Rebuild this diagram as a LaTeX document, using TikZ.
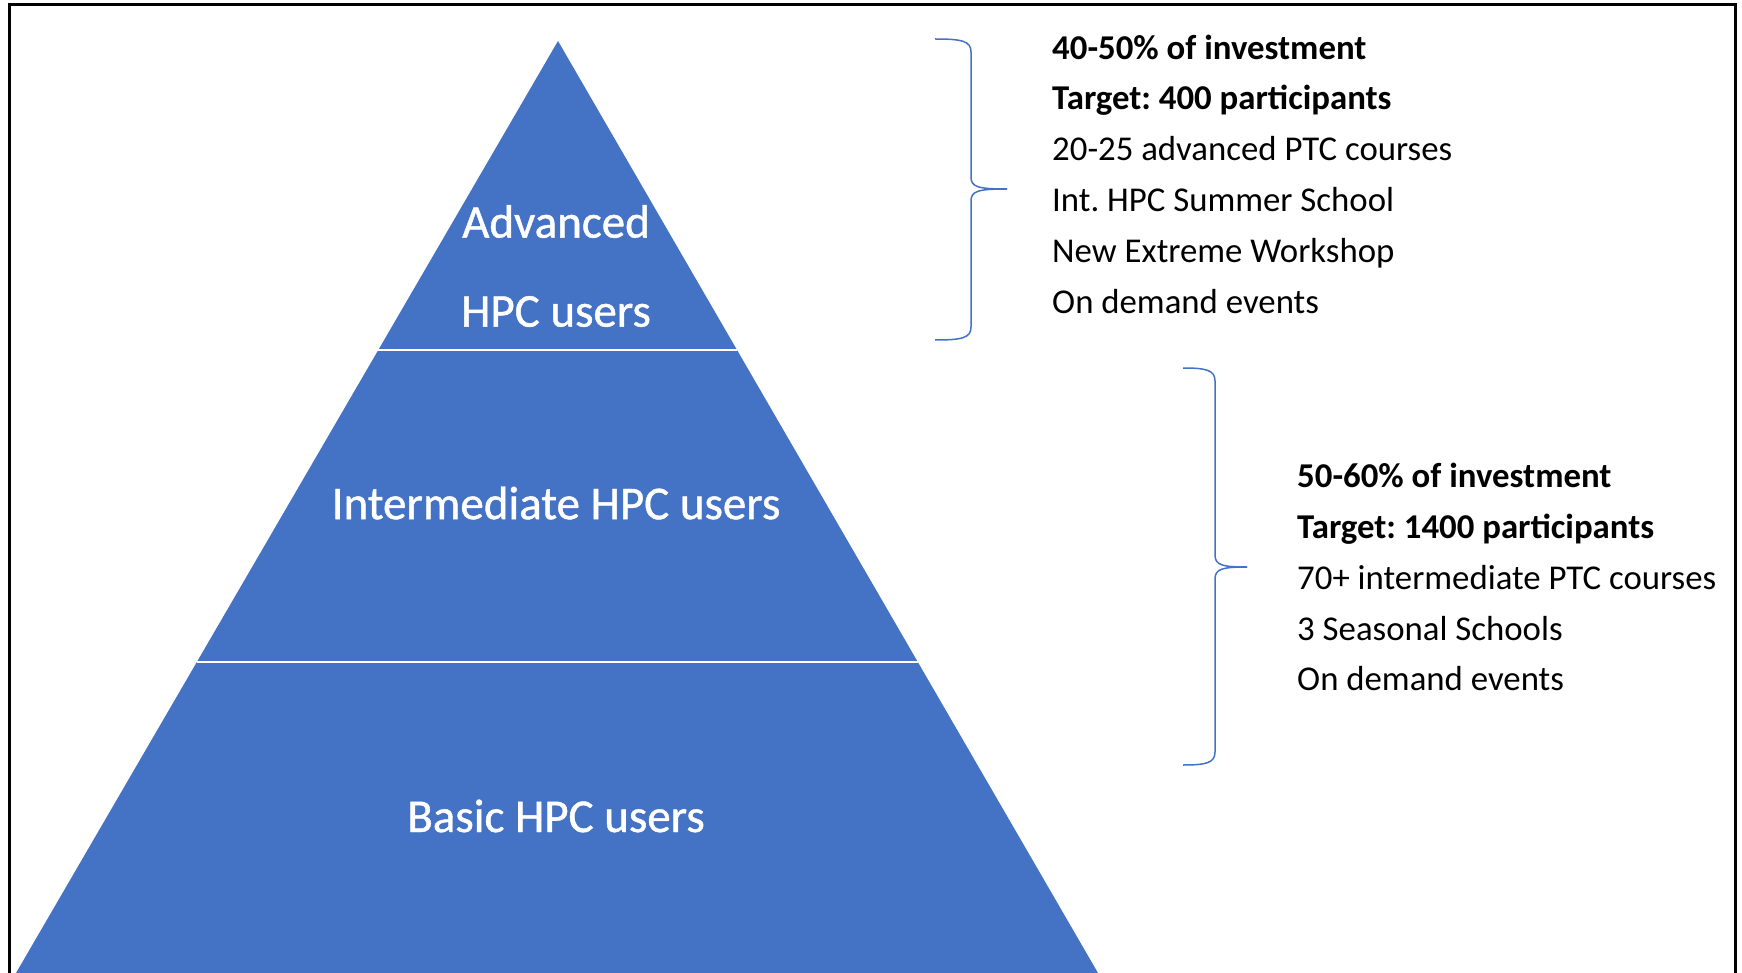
\documentclass[tikz,border=0pt]{standalone}
\usepackage{fontspec}
\setmainfont{Carlito}
\newfontfamily\tierfont[FakeBold=1]{Carlito}
\usetikzlibrary{calc}
\definecolor{tiercolor}{RGB}{68,114,196}
\definecolor{bracecolor}{RGB}{68,114,196}
\frenchspacing

\begin{document}
\begin{tikzpicture}[x=1pt, y=-1pt,
    tierlabel/.style={text=white, font=\tierfont\fontsize{47}{89}\selectfont, align=center, inner sep=0pt},
    infotext/.style={font=\fontsize{34.8}{50.8}\selectfont, align=left, anchor=north west, inner sep=0pt},
    bracepath/.style={draw=bracecolor, line width=1.5pt}]
    \useasboundingbox (0,0) rectangle (1742,973);

    % Cadre
    \draw[line width=3pt] (9,980) -- (9,5) -- (1735,5) -- (1735,980);

    % Pyramide
    \coordinate (apex) at (558,41);
    \coordinate (bl) at (16,973);
    \coordinate (br) at (1098,973);
    \fill[tiercolor] (apex) -- (br) -- (bl) -- cycle;

    % Separations entre niveaux
    \coordinate (cutl1) at ($(apex)!0.3315!(bl)$);
    \coordinate (cutr1) at ($(apex)!0.3315!(br)$);
    \coordinate (cutl2) at ($(apex)!0.6663!(bl)$);
    \coordinate (cutr2) at ($(apex)!0.6663!(br)$);
    \draw[white, line width=2.5pt] (cutl1) -- (cutr1);
    \draw[white, line width=2.5pt] (cutl2) -- (cutr2);

    % Niveaux
    \node[tierlabel] (advanced) at (556,266) {Advanced\\HPC users};
    \node[tierlabel] (intermediate) at (556,503) {Intermediate HPC users};
    \node[tierlabel] (basic) at (556,816) {Basic HPC users};

    % Accolade niveau avance
    \draw[bracepath] (935,39) .. controls (962,39) and (971,41) .. (971,52) -- (971,177)
        .. controls (971,187) and (978,189) .. (1007,189);
    \draw[bracepath] (1007,189) .. controls (978,189) and (971,191) .. (971,201) -- (971,327)
        .. controls (971,338) and (962,340) .. (935,340);

    % Accolade niveau intermediaire
    \draw[bracepath] (1183,368) .. controls (1206,368) and (1215,370) .. (1215,381) -- (1215,555)
        .. controls (1215,565) and (1222,567) .. (1247,567);
    \draw[bracepath] (1247,567) .. controls (1222,567) and (1215,569) .. (1215,579) -- (1215,752)
        .. controls (1215,763) and (1206,765) .. (1183,765);

    % Textes
    \node[infotext] (advinfo) at (1052,34.5) {\textbf{40-50\% of investment}\\
        \textbf{Target: 400 participants}\\
        20-25 advanced PTC courses\\
        Int. HPC Summer School\\
        New Extreme Workshop\\
        On demand events};
    \node[infotext] (intinfo) at (1297,463) {\textbf{50-60\% of investment}\\
        \textbf{Target: 1400 participants}\\
        70+ intermediate PTC courses\\
        3 Seasonal Schools\\
        On demand events};
\end{tikzpicture}
\end{document}
